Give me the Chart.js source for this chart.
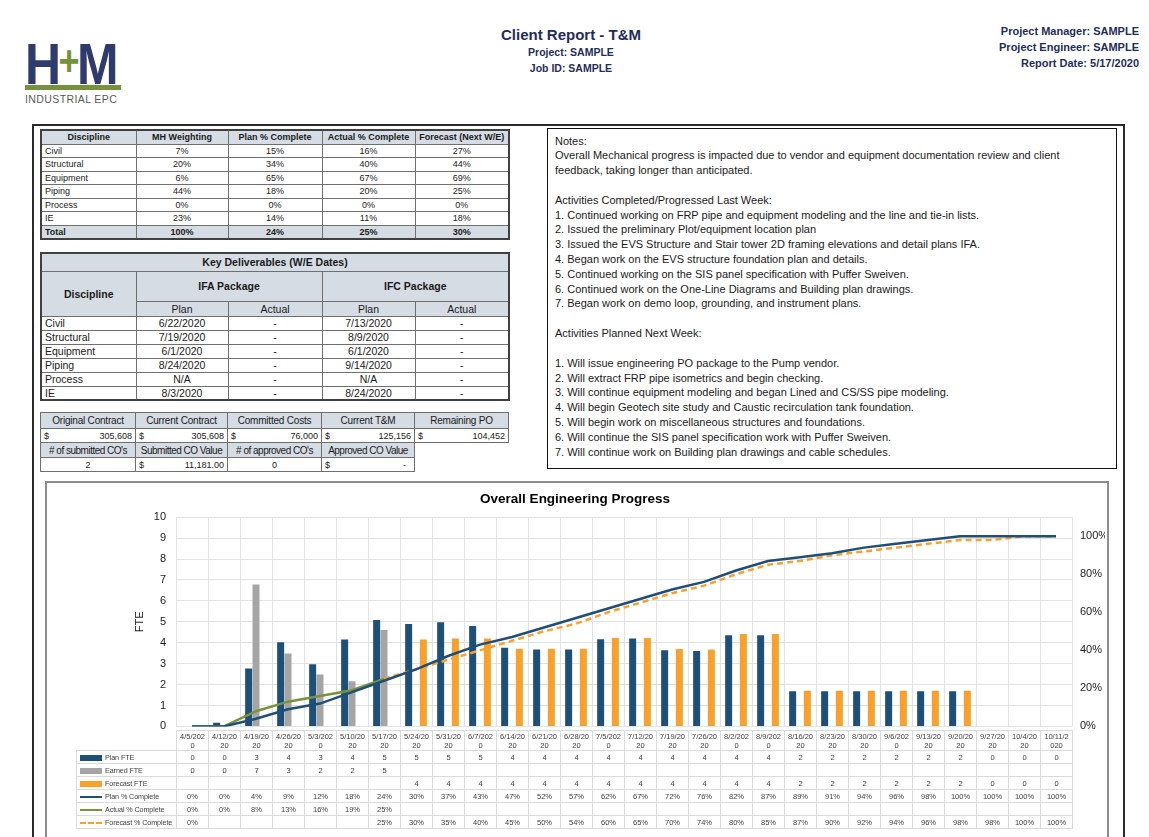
<!DOCTYPE html>
<html>
<head>
<meta charset="utf-8">
<title>Client Report - T&amp;M</title>
<script src="https://cdn.jsdelivr.net/npm/chart.js@4.4.1/dist/chart.umd.min.js"></script>
<style>
  html, body { margin: 0; padding: 0; background: #fff; }
  body { width: 1149px; height: 837px; overflow: hidden; position: relative;
         font-family: "Liberation Sans", Arial, sans-serif; color: #1a1a1a; }
  .abs { position: absolute; }
  .hdr { color: #1f2d5c; font-weight: bold; white-space: nowrap; }
  table.grid { position: absolute; border-collapse: collapse; table-layout: fixed; }
  table.grid td { border: 1px solid #6f6f6f; padding: 0 3px; white-space: nowrap; overflow: hidden; }
  table.grid td.h { background: #d6dce4; text-align: center; }
  table.grid td.c { text-align: center; }
  table.grid td.n { border: none; background: none; }
  table.grid td.m { text-align: right; }
  table.grid td.m span { float: left; }
  #notes div { white-space: nowrap; height: 14.82px; }
  #dt { position: absolute; border-collapse: collapse; table-layout: fixed; font-size: 7.5px; color: #404040; }
  #dt td { border: 1px solid #dadada; text-align: center; padding: 0; white-space: nowrap; overflow: hidden; }
  #dt td.blank { border: none; }
  #dt td.lg { text-align: left; padding-left: 3px; font-size: 7.2px; letter-spacing: -0.1px; }
  .sw { display: inline-block; width: 22px; vertical-align: middle; margin-right: 3px; }
</style>
</head>
<body>

<!-- header -->
<div class="abs" style="left:25px;top:35px;width:96px;">
  <div style="font:bold 58px 'Liberation Sans',Arial,sans-serif;color:#2f3b6c;line-height:52px;height:50px;white-space:nowrap;transform:scaleX(0.86);transform-origin:left;letter-spacing:-3px;">H<span style="color:#76923c;font-size:42px;vertical-align:9px;">+</span>M</div>
  <div style="height:5px;background:#76923c;"></div>
  <div style="font-size:10.5px;color:#5a5a5a;margin-top:3px;letter-spacing:0.4px;white-space:nowrap;">INDUSTRIAL EPC</div>
</div>

<div class="abs hdr" style="left:371px;width:400px;top:26px;text-align:center;font-size:15px;">Client Report - T&amp;M</div>
<div class="abs hdr" style="left:371px;width:400px;top:46px;text-align:center;font-size:10.5px;">Project: SAMPLE</div>
<div class="abs hdr" style="left:371px;width:400px;top:62px;text-align:center;font-size:10.5px;">Job ID: SAMPLE</div>

<div class="abs hdr" style="right:10px;top:23px;text-align:right;font-size:11px;line-height:16px;">
  Project Manager: SAMPLE<br>Project Engineer: SAMPLE<br>Report Date: 5/17/2020
</div>

<!-- outer frame -->
<div class="abs" style="left:32px;top:124px;width:1089px;height:760px;border:2px solid #2b2b2b;"></div>

<!-- discipline table -->
<table class="grid" style="left:40px;top:129px;width:468px;font-size:9px;border:2px solid #404040;">
  <colgroup><col style="width:95px"><col style="width:92px"><col style="width:94px"><col style="width:93px"><col style="width:94px"></colgroup>
  <tr style="height:14px;font-weight:bold;"><td class="h">Discipline</td><td class="h">MH Weighting</td><td class="h">Plan % Complete</td><td class="h">Actual % Complete</td><td class="h">Forecast (Next W/E)</td></tr>
  <tr style="height:13.5px;"><td>Civil</td><td class="c">7%</td><td class="c">15%</td><td class="c">16%</td><td class="c">27%</td></tr>
  <tr style="height:13.5px;"><td>Structural</td><td class="c">20%</td><td class="c">34%</td><td class="c">40%</td><td class="c">44%</td></tr>
  <tr style="height:13.5px;"><td>Equipment</td><td class="c">6%</td><td class="c">65%</td><td class="c">67%</td><td class="c">69%</td></tr>
  <tr style="height:13.5px;"><td>Piping</td><td class="c">44%</td><td class="c">18%</td><td class="c">20%</td><td class="c">25%</td></tr>
  <tr style="height:13.5px;"><td>Process</td><td class="c">0%</td><td class="c">0%</td><td class="c">0%</td><td class="c">0%</td></tr>
  <tr style="height:13.5px;"><td>IE</td><td class="c">23%</td><td class="c">14%</td><td class="c">11%</td><td class="c">18%</td></tr>
  <tr style="height:13.5px;font-weight:bold;"><td class="h" style="text-align:left">Total</td><td class="h">100%</td><td class="h">24%</td><td class="h">25%</td><td class="h">30%</td></tr>
</table>

<!-- key deliverables -->
<table class="grid" style="left:40px;top:252px;width:468px;font-size:10.5px;border:2px solid #404040;">
  <colgroup><col style="width:95px"><col style="width:92px"><col style="width:94px"><col style="width:93px"><col style="width:94px"></colgroup>
  <tr style="height:18px;"><td class="h" colspan="5" style="font-weight:bold;">Key Deliverables (W/E Dates)</td></tr>
  <tr style="height:30px;"><td class="h" rowspan="2" style="font-weight:bold;">Discipline</td><td class="h" colspan="2" style="font-weight:bold;">IFA Package</td><td class="h" colspan="2" style="font-weight:bold;">IFC Package</td></tr>
  <tr style="height:15px;"><td class="h">Plan</td><td class="h">Actual</td><td class="h">Plan</td><td class="h">Actual</td></tr>
  <tr style="height:14px;"><td>Civil</td><td class="c">6/22/2020</td><td class="c">-</td><td class="c">7/13/2020</td><td class="c">-</td></tr>
  <tr style="height:14px;"><td>Structural</td><td class="c">7/19/2020</td><td class="c">-</td><td class="c">8/9/2020</td><td class="c">-</td></tr>
  <tr style="height:14px;"><td>Equipment</td><td class="c">6/1/2020</td><td class="c">-</td><td class="c">6/1/2020</td><td class="c">-</td></tr>
  <tr style="height:14px;"><td>Piping</td><td class="c">8/24/2020</td><td class="c">-</td><td class="c">9/14/2020</td><td class="c">-</td></tr>
  <tr style="height:14px;"><td>Process</td><td class="c">N/A</td><td class="c">-</td><td class="c">N/A</td><td class="c">-</td></tr>
  <tr style="height:14px;"><td>IE</td><td class="c">8/3/2020</td><td class="c">-</td><td class="c">8/24/2020</td><td class="c">-</td></tr>
</table>

<!-- contract table -->
<table class="grid" style="left:40px;top:412px;width:468px;font-size:9px;">
  <colgroup><col style="width:95px"><col style="width:92px"><col style="width:94px"><col style="width:93px"><col style="width:94px"></colgroup>
  <tr style="height:16px;font-size:10px;letter-spacing:-0.2px;"><td class="h">Original Contract</td><td class="h">Current Contract</td><td class="h">Committed Costs</td><td class="h">Current T&amp;M</td><td class="h">Remaining PO</td></tr>
  <tr style="height:14px;"><td class="m"><span>$</span>305,608</td><td class="m"><span>$</span>305,608</td><td class="m"><span>$</span>76,000</td><td class="m"><span>$</span>125,156</td><td class="m"><span>$</span>104,452</td></tr>
  <tr style="height:15px;font-size:10px;letter-spacing:-0.5px;"><td class="h" style="padding:0 1px;"># of submitted CO's</td><td class="h" style="padding:0 1px;">Submitted CO Value</td><td class="h" style="padding:0 1px;"># of approved CO's</td><td class="h" style="padding:0 1px;">Approved CO Value</td><td class="n"></td></tr>
  <tr style="height:14px;"><td class="c">2</td><td class="m"><span>$</span>11,181.00</td><td class="c">0</td><td class="m"><span>$</span>-&nbsp;&nbsp;</td><td class="n"></td></tr>
</table>

<!-- notes -->
<div class="abs" style="left:547px;top:128px;width:568px;height:339px;border:1.5px solid #111;"></div>
<div id="notes" class="abs" style="left:555px;top:133.5px;font-size:11px;line-height:14.82px;color:#1a1a1a;">
  <div>Notes:</div>
  <div>Overall Mechanical progress is impacted due to vendor and equipment documentation review and client</div>
  <div>feedback, taking longer than anticipated.</div>
  <div>&nbsp;</div>
  <div>Activities Completed/Progressed Last Week:</div>
  <div>1. Continued working on FRP pipe and equipment modeling and the line and tie-in lists.</div>
  <div>2. Issued the preliminary Plot/equipment location plan</div>
  <div>3. Issued the EVS Structure and Stair tower 2D framing elevations and detail plans IFA.</div>
  <div>4. Began work on the EVS structure foundation plan and details.</div>
  <div>5. Continued working on the SIS panel specification with Puffer Sweiven.</div>
  <div>6. Continued work on the One-Line Diagrams and Building plan drawings.</div>
  <div>7. Began work on demo loop, grounding, and instrument plans.</div>
  <div>&nbsp;</div>
  <div>Activities Planned Next Week:</div>
  <div>&nbsp;</div>
  <div>1. Will issue engineering PO package to the Pump vendor.</div>
  <div>2. Will extract FRP pipe isometrics and begin checking.</div>
  <div>3. Will continue equipment modeling and began Lined and CS/SS pipe modeling.</div>
  <div>4. Will begin Geotech site study and Caustic recirculation tank foundation.</div>
  <div>5. Will begin work on miscellaneous structures and foundations.</div>
  <div>6. Will continue the SIS panel specification work with Puffer Sweiven.</div>
  <div>7. Will continue work on Building plan drawings and cable schedules.</div>
</div>

<!-- chart box -->
<div class="abs" style="left:45px;top:481px;width:1060px;height:400px;border:2px solid #8c8c8c;"></div>
<div class="abs" style="left:45px;top:481px;width:1060px;height:262px;">
  <canvas id="progressChart"></canvas>
</div>
<table id="dt"></table>

<script>
// week ending dates
var weeks = ['4/5/2020', '4/12/2020', '4/19/2020', '4/26/2020', '5/3/2020', '5/10/2020', '5/17/2020',
             '5/24/2020', '5/31/2020', '6/7/2020', '6/14/2020', '6/21/2020', '6/28/2020', '7/5/2020',
             '7/12/2020', '7/19/2020', '7/26/2020', '8/2/2020', '8/9/2020', '8/16/2020', '8/23/2020',
             '8/30/2020', '9/6/2020', '9/13/2020', '9/20/2020', '9/27/2020', '10/4/2020', '10/11/2020'];

// FTE bars
var planFTE = [0, 0.18, 2.77, 4.02, 2.97, 4.15, 5.09, 4.89, 4.98, 4.8, 3.76, 3.67, 3.67, 4.17,
               4.2, 3.64, 3.61, 4.36, 4.36, 1.68, 1.68, 1.68, 1.68, 1.68, 1.68, 0, 0, 0];
var earnedFTE = [0, 0, 6.78, 3.49, 2.48, 2.16, 4.61, null, null, null, null, null, null, null,
                 null, null, null, null, null, null, null, null, null, null, null, null, null, null];
var forecastFTE = [null, null, null, null, null, null, null, 4.15, 4.2, 4.2, 3.71, 3.71, 3.71, 4.23,
                   4.23, 3.7, 3.67, 4.42, 4.42, 1.7, 1.7, 1.7, 1.7, 1.7, 1.7, 0, 0, 0];

// cumulative % complete
var planPct = [0, 0, 4, 9, 12, 18, 24, 30, 37, 43, 47, 52, 57, 62,
               67, 72, 76, 82, 87, 89, 91, 94, 96, 98, 100, 100, 100, 100];
var actualPct = [0, 0, 8, 13, 16, 19, 25, null, null, null, null, null, null, null,
                 null, null, null, null, null, null, null, null, null, null, null, null, null, null];
var forecastPct = [0, null, null, null, null, null, 25, 30, 35, 40, 45, 50, 54, 60,
                   65, 70, 74, 80, 85, 87, 90, 92, 94, 96, 98, 98, 100, 100];

var navy = '#1f4e79', gray = '#a5a5a5', orange = '#f9a12b', green = '#77933c';
var gridColor = '#e2e2e2';

var ctx = document.getElementById('progressChart').getContext('2d');
var barOpts = { type: 'bar', yAxisID: 'y', order: 2, barPercentage: 0.95, categoryPercentage: 0.69 };
var lineOpts = { type: 'line', yAxisID: 'y1', order: 1, pointRadius: 0, borderWidth: 2.5, tension: 0, fill: false };

var chart = new Chart(ctx, {
    data: {
        labels: weeks,
        datasets: [
            Object.assign({ label: 'Plan FTE', data: planFTE, backgroundColor: navy }, barOpts),
            Object.assign({ label: 'Earned FTE', data: earnedFTE, backgroundColor: gray }, barOpts),
            Object.assign({ label: 'Forecast FTE', data: forecastFTE, backgroundColor: orange }, barOpts),
            Object.assign({ label: 'Plan % Complete', data: planPct, borderColor: navy }, lineOpts),
            Object.assign({ label: 'Actual % Complete', data: actualPct, borderColor: green }, lineOpts),
            Object.assign({ label: 'Forecast % Complete', data: forecastPct, borderColor: orange,
                            borderDash: [6, 4], borderWidth: 2 }, lineOpts)
        ]
    },
    options: {
        responsive: true,
        maintainAspectRatio: false,
        animation: false,
        layout: { padding: 0 },
        plugins: {
            legend: { display: false },
            tooltip: { enabled: false },
            title: {
                display: true,
                text: 'Overall Engineering Progress',
                color: '#000',
                font: { family: 'Liberation Sans', size: 13.5, weight: 'bold' },
                padding: { top: 10, bottom: 10 }
            }
        },
        scales: {
            x: {
                offset: true,
                grid: { offset: true, color: gridColor, drawTicks: false },
                border: { display: false },
                ticks: { display: false },
                afterFit: function(s) { s.height = 2; }
            },
            y: {
                position: 'left',
                min: 0,
                max: 10,
                ticks: { stepSize: 1, color: '#222', padding: 10, font: { family: 'Liberation Sans', size: 11 } },
                grid: { color: gridColor, drawTicks: false },
                border: { display: false },
                title: { display: true, text: 'FTE', color: '#222', padding: { top: 88, bottom: 0 },
                         font: { family: 'Liberation Sans', size: 11 } },
                afterFit: function(s) { s.width = 131; }
            },
            y1: {
                position: 'right',
                min: 0,
                max: 110,
                ticks: {
                    stepSize: 20, color: '#222', padding: 8,
                    font: { family: 'Liberation Sans', size: 11 },
                    callback: function(v) { return v + '%'; }
                },
                afterBuildTicks: function(s) { s.ticks = s.ticks.filter(function(t) { return t.value <= 100; }); },
                grid: { display: false, drawTicks: false },
                border: { display: false },
                afterFit: function(s) { s.width = 33; }
            }
        }
    }
});

// data table under the chart, lined up with the categories
var area = chart.chartArea;
var colW = (area.right - area.left) / weeks.length;
var legendW = 100;
var dt = document.getElementById('dt');
dt.style.left = (45 + area.left - legendW) + 'px';
dt.style.top = (481 + area.bottom + 4) + 'px';
dt.style.width = (legendW + colW * weeks.length) + 'px';

var html = '<colgroup><col style="width:' + legendW + 'px">';
weeks.forEach(function() { html += '<col style="width:' + colW + 'px">'; });
html += '</colgroup><tr style="height:20px;line-height:9px;"><td class="blank"></td>';
weeks.forEach(function(w) { html += '<td>' + w.slice(0, 7) + '<br>' + w.slice(7) + '</td>'; });
html += '</tr>';

var rows = [
    { name: 'Plan FTE', data: planFTE, sw: 'height:6px;background:' + navy, fmt: 'fte' },
    { name: 'Earned FTE', data: earnedFTE, sw: 'height:6px;background:' + gray, fmt: 'fte' },
    { name: 'Forecast FTE', data: forecastFTE, sw: 'height:6px;background:' + orange, fmt: 'fte' },
    { name: 'Plan % Complete', data: planPct, sw: 'height:0;border-top:2.5px solid ' + navy, fmt: 'pct' },
    { name: 'Actual % Complete', data: actualPct, sw: 'height:0;border-top:2.5px solid ' + green, fmt: 'pct' },
    { name: 'Forecast % Complete', data: forecastPct, sw: 'height:0;border-top:2px dashed ' + orange, fmt: 'pct' }
];
rows.forEach(function(r) {
    html += '<tr style="height:13px;"><td class="lg"><span class="sw" style="' + r.sw + '"></span>' + r.name + '</td>';
    r.data.forEach(function(v) {
        var t = '';
        if (v !== null) t = r.fmt === 'fte' ? Math.round(v) : v + '%';
        html += '<td>' + t + '</td>';
    });
    html += '</tr>';
});
dt.innerHTML = html;
</script>
</body>
</html>
